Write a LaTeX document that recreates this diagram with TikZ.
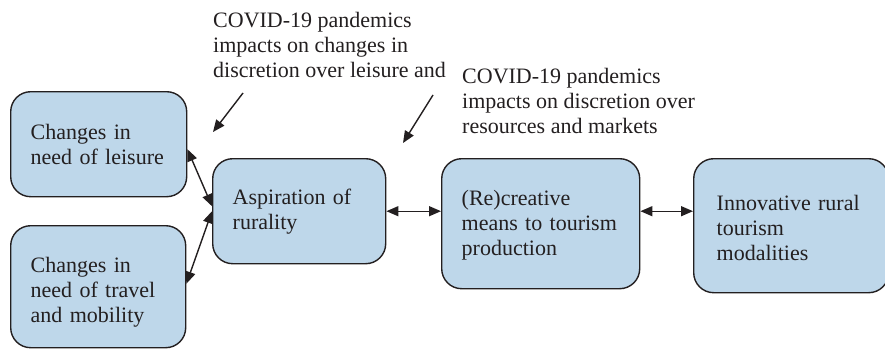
\documentclass[tikz,border=0pt]{standalone}
\usepackage{fontspec}
\setmainfont{Liberation Serif}
\usetikzlibrary{arrows.meta,calc}
\definecolor{boxfill}{RGB}{190,215,234}
\definecolor{ink}{RGB}{35,31,32}
\begin{document}
\begin{tikzpicture}[x=1pt,y=-1pt,
  stagebox/.style={draw=ink, line width=1.4pt, fill=boxfill, rounded corners=20pt,
    inner xsep=20pt, inner ysep=0pt, align=left, anchor=north west,
    font=\fontsize{22}{25}\selectfont, text=ink},
  note/.style={inner sep=0pt, align=left, anchor=north west,
    font=\fontsize{22}{25}\selectfont, text=ink},
  link/.style={draw=ink, line width=1.4pt, {Triangle[length=12pt,width=10pt]}-{Triangle[length=12pt,width=10pt]}},
  push/.style={draw=ink, line width=1.4pt, -{Triangle[length=12pt,width=10pt]}}]
  \useasboundingbox (0,0) rectangle (885,348);

  % stages
  \node[stagebox, minimum width=176pt, minimum height=105pt, text width=136pt] (A) at (10,91)
    {Changes in\\need of leisure};
  \node[stagebox, minimum width=175pt, minimum height=122pt, text width=135pt] (B) at (10,225)
    {\rule{0pt}{26pt}Changes in\\need of travel\\and mobility};
  \node[stagebox, minimum width=173pt, minimum height=105pt, text width=133pt] (C) at (212,158)
    {Aspiration of\\rurality};
  \node[stagebox, minimum width=198pt, minimum height=130pt, text width=158pt] (D) at (441,158)
    {\rule{0pt}{19pt}(Re)creative\\means to tourism\\production};
  \node[stagebox, minimum width=189pt, minimum height=134pt, text width=149pt, inner xsep=23pt] (E) at (693,158)
    {\rule{0pt}{20pt}Innovative rural\\tourism\\modalities};

  % COVID-19 influences
  \node[note] (N1) at (213,12)
    {COVID-19 pandemics\\impacts on changes in\\discretion over leisure and};
  \node[note] (N2) at (462,68)
    {COVID-19 pandemics\\impacts on discretion over\\resources and markets};

  \coordinate (t1) at (243,93);
  \coordinate (h1) at (213,132);
  \coordinate (t2) at (433,95);
  \coordinate (h2) at (403,143);
  \draw[push] (t1) -- (h1);
  \draw[push] (t2) -- (h2);

  % links between stages
  \draw[link] ($(A.east)+(0,5)$) -- ($(C.west)+(0,-5)$);
  \draw[link] ($(B.east)+(0,-3)$) -- (C.west);
  \draw[link] (C.east) -- (C.east -| D.west);
  \draw[link] (D.east |- C.east) -- (E.west |- C.east);
\end{tikzpicture}
\end{document}
